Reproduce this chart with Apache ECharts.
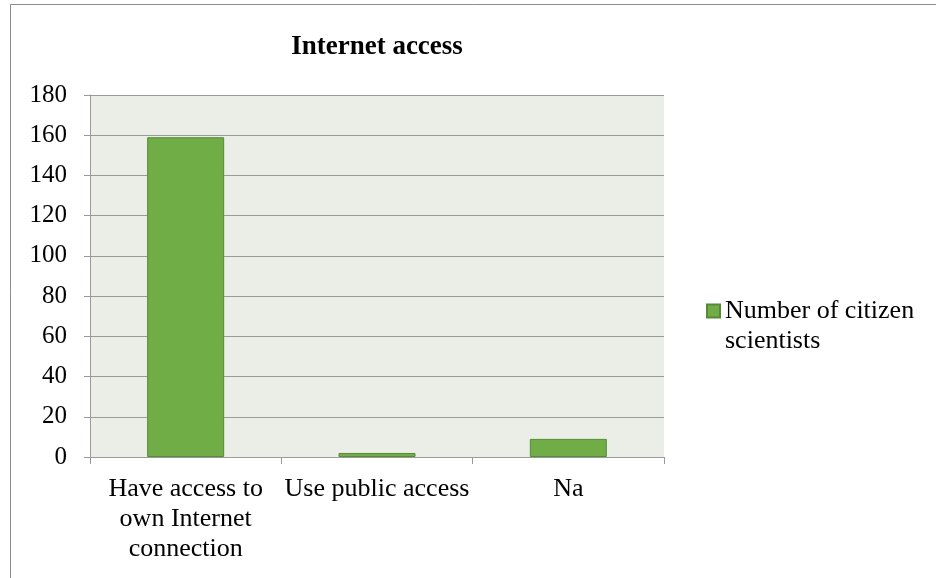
<!DOCTYPE html>
<html>
<head>
<meta charset="utf-8">
<script src="https://cdn.jsdelivr.net/npm/echarts@6/dist/echarts.min.js"></script>
<style>
  html, body { margin: 0; padding: 0; background: #fff; }
  #chart { width: 936px; height: 578px; }
</style>
</head>
<body>
<div id="chart"></div>
<script>
// Survey answers about how respondents get online
const categories = ['Have access to\nown Internet\nconnection', 'Use public access', 'Na'];
const citizenScientists = [159, 2, 9];
const seriesName = 'Number of citizen\nscientists';
const chartTitle = 'Internet access';

const serif = '"Liberation Serif", "Times New Roman", serif';
const chart = echarts.init(document.getElementById('chart'), null, { renderer: 'canvas' });

chart.setOption({
  animation: false,
  backgroundColor: '#ffffff',
  title: {
    text: chartTitle,
    left: 377,
    top: 34,
    textAlign: 'center',
    padding: 0,
    textStyle: { fontFamily: serif, fontSize: 27, fontWeight: 'bold', color: '#000' }
  },
  legend: {
    left: 706,
    top: 266,
    padding: 0,
    orient: 'vertical',
    itemWidth: 13,
    itemHeight: 13,
    icon: 'rect',
    // leading blank line keeps the swatch level with the first text line
    formatter: name => '\n' + name,
    textStyle: { fontFamily: serif, fontSize: 26, color: '#000', lineHeight: 30 },
    data: [seriesName]
  },
  grid: {
    left: 90,
    top: 95,
    width: 574,
    height: 362,
    show: true,
    backgroundColor: '#EAEEE6',
    borderWidth: 0
  },
  xAxis: {
    type: 'category',
    data: categories,
    axisLine: { show: true, lineStyle: { color: '#9a9a9a', width: 1 } },
    axisTick: { show: true, alignWithLabel: false, length: 7, lineStyle: { color: '#9a9a9a' } },
    axisLabel: {
      fontFamily: serif, fontSize: 26, color: '#000', lineHeight: 30, margin: 17, interval: 0
    }
  },
  yAxis: {
    type: 'value',
    min: 0,
    max: 180,
    interval: 20,
    axisLine: { show: true, lineStyle: { color: '#9a9a9a', width: 1 } },
    axisTick: { show: true, inside: false, length: 6, lineStyle: { color: '#9a9a9a' } },
    axisLabel: { fontFamily: serif, fontSize: 25, color: '#000', margin: 23 },
    splitLine: { show: true, lineStyle: { color: '#9a9a9a', width: 1 } }
  },
  series: [{
    name: seriesName,
    type: 'bar',
    data: citizenScientists,
    barWidth: 77,
    itemStyle: { color: '#70AD47', borderColor: '#578A37', borderWidth: 1 }
  }],
  graphic: [{
    type: 'rect',
    shape: { x: 10.5, y: 4.5, width: 960, height: 620 },
    style: { fill: 'none', stroke: '#8c8c8c', lineWidth: 1 },
    silent: true,
    z: 100
  }]
});
</script>
</body>
</html>
